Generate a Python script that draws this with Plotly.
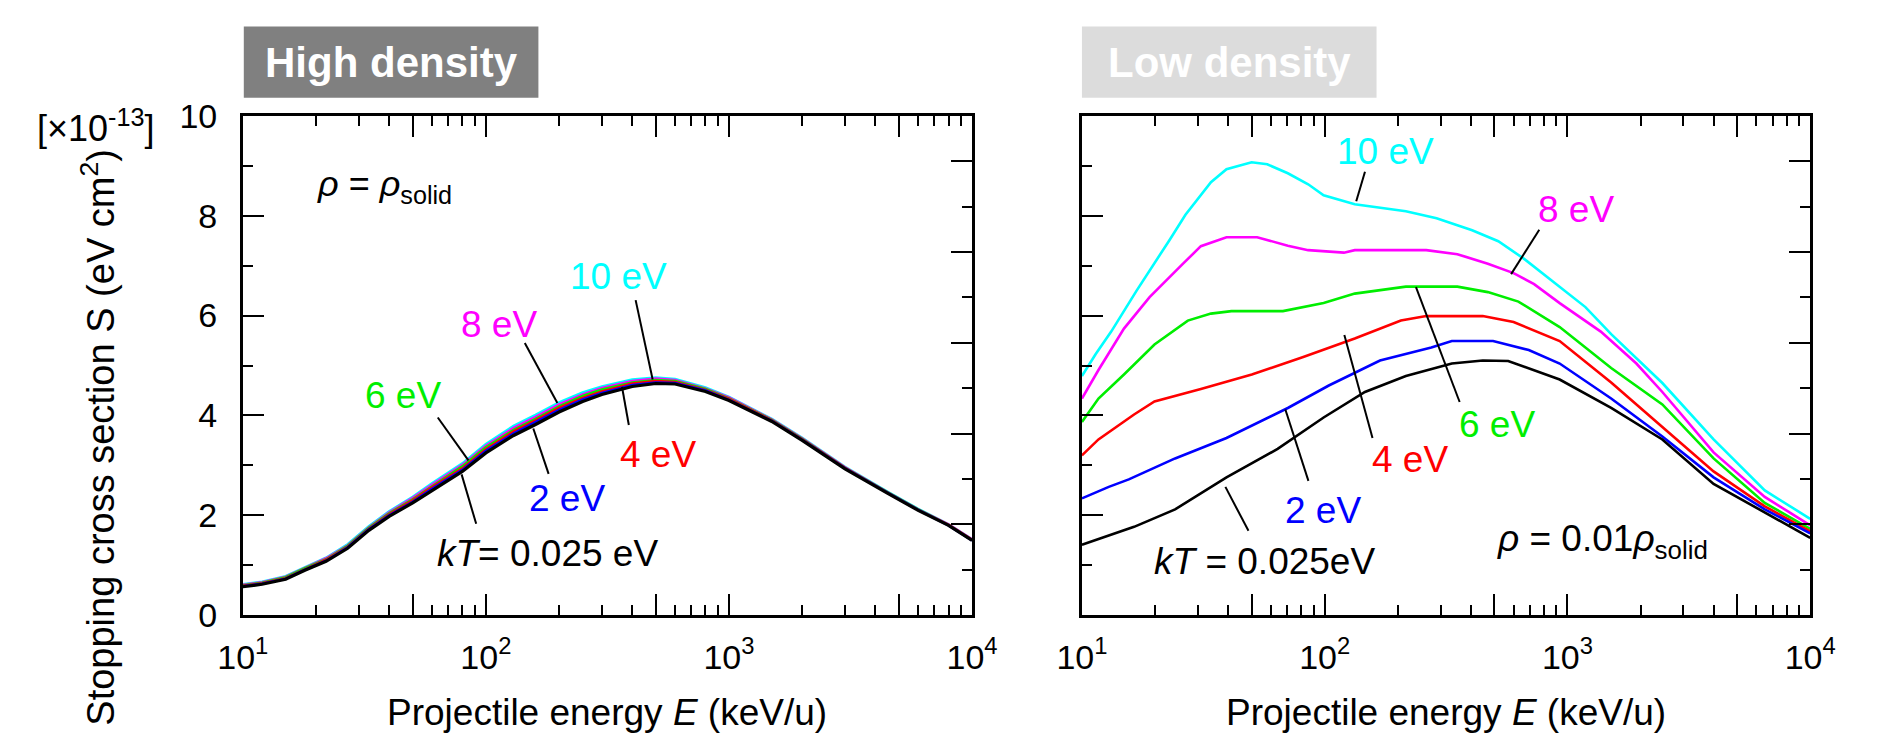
import math
import plotly.graph_objects as go

# ---------------- data ----------------
# High density (rho = rho_solid), energy grid shared by all temperatures
E_HI = [10, 12, 15, 18, 22, 27, 33, 40, 50, 60, 80, 100, 130, 160, 200, 250, 300, 400,
        500, 600, 800, 1000, 1500, 2000, 3000, 4500, 6000, 8000, 10000]
S_HI_10 = [0.62, 0.67, 0.78, 0.96, 1.15, 1.42, 1.78, 2.08, 2.37, 2.64, 3.04, 3.43, 3.79, 4.01, 4.26,
           4.46, 4.58, 4.72, 4.76, 4.73, 4.56, 4.37, 3.93, 3.55, 2.97, 2.47, 2.13, 1.82, 1.52]
S_HI_8 = [0.61, 0.66, 0.77, 0.95, 1.14, 1.40, 1.76, 2.06, 2.35, 2.61, 3.01, 3.39, 3.75, 3.97, 4.22,
          4.42, 4.55, 4.69, 4.74, 4.71, 4.54, 4.36, 3.92, 3.54, 2.96, 2.46, 2.12, 1.82, 1.52]
S_HI_6 = [0.60, 0.65, 0.76, 0.94, 1.12, 1.39, 1.75, 2.04, 2.32, 2.58, 2.98, 3.36, 3.71, 3.93, 4.18,
          4.39, 4.52, 4.66, 4.71, 4.69, 4.53, 4.34, 3.91, 3.53, 2.95, 2.46, 2.12, 1.81, 1.51]
S_HI_4 = [0.59, 0.64, 0.74, 0.92, 1.11, 1.37, 1.73, 2.02, 2.30, 2.56, 2.94, 3.32, 3.68, 3.90, 4.15,
          4.35, 4.48, 4.64, 4.69, 4.67, 4.51, 4.33, 3.90, 3.52, 2.95, 2.45, 2.11, 1.81, 1.51]
S_HI_2 = [0.58, 0.63, 0.73, 0.91, 1.09, 1.36, 1.72, 2.00, 2.27, 2.53, 2.91, 3.29, 3.64, 3.86, 4.11,
          4.32, 4.45, 4.61, 4.66, 4.65, 4.50, 4.31, 3.89, 3.51, 2.94, 2.45, 2.11, 1.80, 1.50]
S_HI_0 = [0.57, 0.62, 0.72, 0.90, 1.08, 1.34, 1.70, 1.98, 2.25, 2.50, 2.88, 3.25, 3.60, 3.82, 4.07,
          4.28, 4.42, 4.58, 4.64, 4.63, 4.48, 4.30, 3.88, 3.50, 2.93, 2.44, 2.10, 1.80, 1.50]

# Low density (rho = 0.01 rho_solid)
E_LO_10 = [10, 11.4, 13.2, 16.8, 23, 26.7, 34, 39.4, 50, 58, 70.5, 85.5, 99, 133, 216, 289, 405,
           519, 661, 929, 1186, 1514, 2460, 4000, 6500, 10000]
S_LO_10 = [4.79, 5.23, 5.68, 6.50, 7.52, 8.02, 8.67, 8.93, 9.07, 9.03, 8.85, 8.63, 8.41, 8.23, 8.09,
           7.95, 7.71, 7.49, 7.14, 6.57, 6.17, 5.63, 4.65, 3.52, 2.50, 1.93]
E_LO_8 = [10, 11.7, 14.9, 19, 26.1, 30.9, 39.4, 52.7, 70.5, 85.5, 120, 133, 262, 352, 470, 600, 729,
          929, 1372, 1923, 2460, 4000, 6500, 10000]
S_LO_8 = [4.34, 4.91, 5.74, 6.37, 7.04, 7.39, 7.57, 7.57, 7.40, 7.31, 7.26, 7.31, 7.31, 7.23, 7.04,
          6.85, 6.63, 6.25, 5.68, 5.04, 4.47, 3.26, 2.37, 1.80]
E_LO_6 = [10, 11.7, 14.9, 19.9, 27.3, 34, 41.3, 67.3, 99, 133, 216, 352, 470, 628, 929, 1514, 2460,
          4000, 6500, 10000]
S_LO_6 = [3.87, 4.34, 4.82, 5.42, 5.90, 6.04, 6.09, 6.09, 6.25, 6.44, 6.58, 6.58, 6.47, 6.28, 5.77,
          4.95, 4.22, 3.14, 2.25, 1.73]
E_LO_4 = [10, 11.7, 16.4, 19.9, 30.9, 50.1, 81.6, 133, 206, 262, 448, 600, 929, 1514, 2460, 4000,
          6500, 10000]
S_LO_4 = [3.20, 3.52, 4.02, 4.28, 4.53, 4.82, 5.17, 5.54, 5.90, 5.99, 5.99, 5.87, 5.49, 4.66, 3.77,
          2.88, 2.18, 1.68]
E_LO_2 = [10, 12.9, 15.6, 24.2, 39.4, 70.5, 104, 169, 275, 334, 494, 693, 929, 1514, 2460, 4000,
          6500, 10000]
S_LO_2 = [2.34, 2.57, 2.72, 3.14, 3.55, 4.15, 4.60, 5.10, 5.36, 5.49, 5.49, 5.31, 5.04, 4.34, 3.58,
          2.76, 2.12, 1.64]
E_LO_0 = [10, 16.4, 24.2, 39.4, 64, 99, 146.5, 216, 334, 448, 570, 929, 1514, 2460, 4000, 6500, 10000]
S_LO_0 = [1.41, 1.77, 2.12, 2.76, 3.33, 3.96, 4.47, 4.79, 5.04, 5.10, 5.09, 4.72, 4.15, 3.52, 2.63,
          2.06, 1.55]

SERIES_NAMES = ["10 eV", "8 eV", "6 eV", "4 eV", "2 eV", "kT = 0.025 eV"]

X_TICKVALS = [10, 100, 1000, 10000]
X_TICKTEXT = ["10<sup>1</sup>", "10<sup>2</sup>", "10<sup>3</sup>", "10<sup>4</sup>"]
X_MID = [50, 500, 5000]
X_MINOR = [20, 30, 40, 60, 70, 80, 90, 200, 300, 400, 600, 700, 800, 900,
           2000, 3000, 4000, 6000, 7000, 8000, 9000]
Y_TICKVALS = [0, 2, 4, 6, 8, 10]
Y_TICKTEXT = ["0", "2", "4", "6", "8", "10"]

# ---------------- styles ----------------
FONT = "Liberation Sans, Arial, Helvetica, sans-serif"
COLORS = ["#00ffff", "#ff00ff", "#00ee00", "#ff0000", "#0000ff", "#000000"]
W, H = 1878, 751


def px(v, total):
    return v / total


XD1 = [px(223, W), px(973, W)]
XD2 = [px(1086, W), px(1835, W)]
YD = [px(123, H), px(649, H)]

fig = go.Figure()

hi_sets = [S_HI_10, S_HI_8, S_HI_6, S_HI_4, S_HI_2, S_HI_0]
lo_sets = [(E_LO_10, S_LO_10), (E_LO_8, S_LO_8), (E_LO_6, S_LO_6),
           (E_LO_4, S_LO_4), (E_LO_2, S_LO_2), (E_LO_0, S_LO_0)]

for name, col, s in zip(SERIES_NAMES, COLORS, hi_sets):
    fig.add_trace(go.Scatter(x=E_HI, y=s, mode="lines", name=name,
                             line=dict(color=col, width=3.2 if col == "#000000" else 2.6),
                             xaxis="x", yaxis="y", showlegend=False, hoverinfo="skip"))
for name, col, (e, s) in zip(SERIES_NAMES, COLORS, lo_sets):
    fig.add_trace(go.Scatter(x=e, y=s, mode="lines", name=name,
                             line=dict(color=col, width=2.6),
                             xaxis="x2", yaxis="y2", showlegend=False, hoverinfo="skip"))

# invisible anchor traces for the extra tick-only axes
for xa, ya in [("x", "y3"), ("x2", "y4"), ("x3", "y"), ("x4", "y2")]:
    fig.add_trace(go.Scatter(x=[10], y=[0], mode="markers", marker=dict(opacity=0),
                             xaxis=xa, yaxis=ya, showlegend=False, hoverinfo="skip"))

# leader lines (label -> curve), in (log10 E, S)
LEADERS_HI = [((2.616, 6.31), (2.686, 4.72)), ((2.16, 5.45), (2.294, 4.25)),
              ((1.802, 3.96), (1.928, 3.10)), ((2.258, 2.83), (2.195, 3.74)),
              ((2.588, 3.81), (2.56, 4.57)), ((1.96, 1.83), (1.90, 2.82))]
LEADERS_LO = [((2.166, 8.88), (2.13, 8.29)), ((2.884, 7.72), (2.768, 6.83)),
              ((2.556, 4.27), (2.376, 6.57)), ((2.197, 3.55), (2.081, 5.61)),
              ((1.933, 2.69), (1.838, 4.12)), ((1.686, 1.69), (1.591, 2.57))]


def leader_trace(leaders, xa, ya):
    xs, ys = [], []
    for (a, b) in leaders:
        xs += [10 ** a[0], 10 ** b[0], None]
        ys += [a[1], b[1], None]
    return go.Scatter(x=xs, y=ys, mode="lines", line=dict(color="black", width=2),
                      xaxis=xa, yaxis=ya, showlegend=False, hoverinfo="skip")


fig.add_trace(leader_trace(LEADERS_HI, "x", "y"))
fig.add_trace(leader_trace(LEADERS_LO, "x2", "y2"))

TICKFONT = dict(family=FONT, size=34, color="black")
xcommon = dict(type="log", range=[1, 4], tickmode="array", tickvals=X_TICKVALS,
               ticktext=X_TICKTEXT, ticks="inside", ticklen=21, tickwidth=2,
               tickcolor="black", showline=True, linecolor="black", linewidth=2.5,
               mirror="ticks", showgrid=False, zeroline=False, tickfont=TICKFONT,
               ticklabelstandoff=10,
               minor=dict(tickmode="array", tickvals=X_MINOR, ticks="inside",
                          ticklen=10, tickwidth=2, tickcolor="black", showgrid=False))
xmid = dict(type="log", range=[1, 4], tickmode="array", tickvals=X_MID, ticks="inside",
            ticklen=21, tickwidth=2, tickcolor="black", showline=False, mirror="ticks",
            showgrid=False, zeroline=False, showticklabels=False, side="bottom")
ycommon = dict(range=[0, 10], tickmode="array", tickvals=Y_TICKVALS, ticktext=Y_TICKTEXT,
               ticks="inside", ticklen=21, tickwidth=2, tickcolor="black", showline=True,
               linecolor="black", linewidth=2.5, showgrid=False, zeroline=False,
               tickfont=TICKFONT, ticklabelstandoff=16,
               minor=dict(dtick=1, ticks="inside", ticklen=10, tickwidth=2,
                          tickcolor="black", showgrid=False))
yright = dict(range=[0, 11], dtick=2, tick0=0, ticks="inside", ticklen=21, tickwidth=2,
              tickcolor="black", showline=True, linecolor="black", linewidth=2.5,
              showgrid=False, zeroline=False, showticklabels=False, side="right",
              minor=dict(dtick=1, ticks="inside", ticklen=10, tickwidth=2,
                         tickcolor="black", showgrid=False))

fig.update_layout(
    width=W, height=H, margin=dict(l=0, r=0, t=0, b=0),
    paper_bgcolor="white", plot_bgcolor="rgba(0,0,0,0)",
    xaxis=dict(domain=XD1, anchor="y", **xcommon),
    xaxis2=dict(domain=XD2, anchor="y2", **xcommon),
    xaxis3=dict(overlaying="x", anchor="y", **xmid),
    xaxis4=dict(overlaying="x2", anchor="y2", **xmid),
    yaxis=dict(domain=YD, anchor="x", **ycommon),
    yaxis2=dict(domain=YD, anchor="x2", showticklabels=False, **ycommon),
    yaxis3=dict(overlaying="y", anchor="x", **yright),
    yaxis4=dict(overlaying="y2", anchor="x2", **yright),
)

# title boxes
fig.add_shape(type="rect", xref="paper", yref="paper", x0=px(224, W), x1=px(527, W),
              y0=1 - px(83, H), y1=1 - px(8, H), fillcolor="#808080", line=dict(width=0))
fig.add_shape(type="rect", xref="paper", yref="paper", x0=px(1086, W), x1=px(1389, W),
              y0=1 - px(83, H), y1=1 - px(8, H), fillcolor="#dcdcdc", line=dict(width=0))

ann = []


def A(text, x, y, xref, yref, size, color="black", xanchor="center", yanchor="middle",
      angle=0, bold=False):
    if bold:
        text = "<b>" + text + "</b>"
    ann.append(dict(text=text, x=x, y=y, xref=xref, yref=yref, showarrow=False,
                    xanchor=xanchor, yanchor=yanchor, textangle=angle,
                    font=dict(family=FONT, size=size, color=color)))


A("High density", px(375.5, W), 1 - px(46, H), "paper", "paper", 42, "white", bold=True)
A("Low density", px(1237.5, W), 1 - px(46, H), "paper", "paper", 42, "white", bold=True)
A("[×10<sup>-13</sup>]", px(72, W), 1 - px(113, H), "paper", "paper", 36)
A("Stopping cross section S (eV cm<sup>2</sup>)", px(74, W), 1 - px(440, H), "paper", "paper",
  38, angle=-90)
A("Projectile energy <i>E</i> (keV/u)", px(598, W), 1 - px(730, H), "paper", "paper", 37)
A("Projectile energy <i>E</i> (keV/u)", px(1460, W), 1 - px(730, H), "paper", "paper", 37)

A("<i>ρ</i> = <i>ρ</i><sub>solid</sub>", 1.296, 8.59, "x", "y", 36, xanchor="left")
A("<i>ρ</i> = 0.01<i>ρ</i><sub>solid</sub>", 2.70, 1.49, "x2", "y2", 37, xanchor="left")

LABELS_HI = [("10 eV", 2.544, 6.78, COLORS[0]), ("8 eV", 2.052, 5.83, COLORS[1]),
             ("6 eV", 1.658, 4.40, COLORS[2]), ("4 eV", 2.706, 3.22, COLORS[3]),
             ("2 eV", 2.332, 2.34, COLORS[4]), ("<i>kT</i>= 0.025 eV", 2.252, 1.24, COLORS[5])]
LABELS_LO = [("10 eV", 2.25, 9.28, COLORS[0]), ("8 eV", 3.036, 8.12, COLORS[1]),
             ("6 eV", 2.708, 3.82, COLORS[2]), ("4 eV", 2.35, 3.12, COLORS[3]),
             ("2 eV", 1.992, 2.10, COLORS[4]), ("<i>kT</i> = 0.025eV", 1.752, 1.08, COLORS[5])]
for t, x, y, c in LABELS_HI:
    A(t, x, y, "x", "y", 37, c)
for t, x, y, c in LABELS_LO:
    A(t, x, y, "x2", "y2", 37, c)

fig.update_layout(annotations=ann)
fig.write_html("out.html")
